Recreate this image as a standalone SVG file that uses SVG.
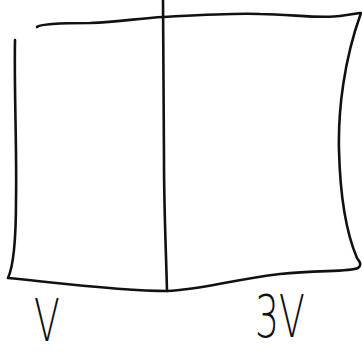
<svg xmlns="http://www.w3.org/2000/svg" width="362" height="355" viewBox="0 0 362 355">
<style>
.s{fill:none;stroke:#111;stroke-width:2.6;stroke-linecap:round;stroke-linejoin:round}
.t{font-family:"DejaVu Sans","Liberation Sans",sans-serif;font-size:54px;fill:#111;font-weight:200}
</style>
<rect width="362" height="355" fill="#fff"/>
<g id="connectors">
<path class="s" d="M37,27 C40,24 60,23 90,23 C120,22 140,18 163,17 C200,15 230,13 260,14 C290,14 320,19 340,16 L360,13"/>
<path class="s" d="M15,40 C14,90 17,150 16,200 C16,240 14,265 8,278 C50,282 120,291 167,291 C200,290 230,280 280,274 C320,270 350,272 358,268 C362,265 360,262 357,258 C345,230 340,190 339,150 C338,110 344,60 361,13"/>
<path class="s" d="M163,0 C163,60 164,120 164,160 C164,210 166,250 167,291"/>
</g>
<g id="label-v"><text class="t" x="47" y="341" text-anchor="middle" transform="translate(47 0) scale(0.7 1.1) translate(-47 -31)">V</text></g>
<g id="label-3v"><text class="t" x="280" y="337" text-anchor="middle" transform="translate(280 0) scale(0.7 1.1) translate(-280 -31)">3V</text></g>
</svg>
